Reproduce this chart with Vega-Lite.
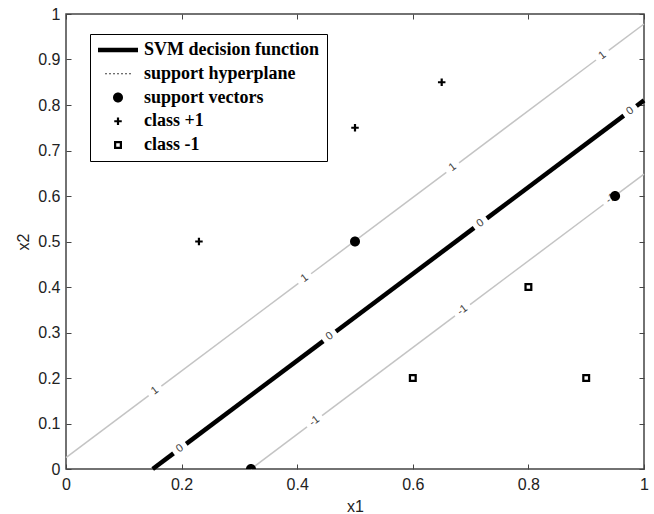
{
  "$schema": "https://vega.github.io/schema/vega-lite/v6.json",
  "width": 578,
  "height": 455,
  "autosize": "none",
  "padding": {"left": 66, "top": 14, "right": 10, "bottom": 45},
  "background": "white",
  "config": {
    "view": {"stroke": "#444", "strokeWidth": 1.5},
    "axis": {
      "grid": false, "domain": false, "tickColor": "#444", "tickSize": -5, "tickWidth": 1,
      "labelFont": "Liberation Sans", "labelFontSize": 16, "labelColor": "#222",
      "labelFlush": false, "labelOverlap": false, "format": "~g",
      "titleFont": "Liberation Sans", "titleFontSize": 16, "titleFontWeight": "normal", "titleColor": "#222"
    }
  },
  "datasets": {
    "segments": [
      {"level": "1", "x": 0, "y": 0.025, "x2": 0.143, "y2": 0.1613},
      {"level": "1", "x": 0.165, "y": 0.1822, "x2": 0.402, "y2": 0.4081},
      {"level": "1", "x": 0.424, "y": 0.4291, "x2": 0.658, "y2": 0.652},
      {"level": "1", "x": 0.68, "y": 0.673, "x2": 0.917, "y2": 0.8989},
      {"level": "1", "x": 0.939, "y": 0.9199, "x2": 1, "y2": 0.978},
      {"level": "0", "x": 0.15, "y": 0, "x2": 0.186, "y2": 0.0343},
      {"level": "0", "x": 0.208, "y": 0.0553, "x2": 0.445, "y2": 0.2811},
      {"level": "0", "x": 0.467, "y": 0.3021, "x2": 0.706, "y2": 0.5299},
      {"level": "0", "x": 0.728, "y": 0.5508, "x2": 0.965, "y2": 0.7767},
      {"level": "0", "x": 0.987, "y": 0.7977, "x2": 1, "y2": 0.8101},
      {"level": "-1", "x": 0.32, "y": 0, "x2": 0.417, "y2": 0.0924},
      {"level": "-1", "x": 0.443, "y": 0.1172, "x2": 0.673, "y2": 0.3364},
      {"level": "-1", "x": 0.699, "y": 0.3612, "x2": 0.93, "y2": 0.5813},
      {"level": "-1", "x": 0.956, "y": 0.6061, "x2": 1, "y2": 0.648}
    ],
    "labels": [
      {"label": "1", "x": 0.154, "y": 0.172},
      {"label": "1", "x": 0.413, "y": 0.419},
      {"label": "1", "x": 0.669, "y": 0.663},
      {"label": "1", "x": 0.928, "y": 0.909},
      {"label": "0", "x": 0.197, "y": 0.045},
      {"label": "0", "x": 0.456, "y": 0.292},
      {"label": "0", "x": 0.717, "y": 0.54},
      {"label": "0", "x": 0.976, "y": 0.787},
      {"label": "-1", "x": 0.43, "y": 0.105},
      {"label": "-1", "x": 0.686, "y": 0.349},
      {"label": "-1", "x": 0.943, "y": 0.594}
    ],
    "points": [
      {"kind": "support vectors", "x": 0.5, "y": 0.5},
      {"kind": "support vectors", "x": 0.32, "y": 0},
      {"kind": "support vectors", "x": 0.95, "y": 0.6},
      {"kind": "class +1", "x": 0.23, "y": 0.5},
      {"kind": "class +1", "x": 0.5, "y": 0.75},
      {"kind": "class +1", "x": 0.65, "y": 0.85},
      {"kind": "class -1", "x": 0.6, "y": 0.2},
      {"kind": "class -1", "x": 0.8, "y": 0.4},
      {"kind": "class -1", "x": 0.9, "y": 0.2}
    ]
  },
  "layer": [
    {
      "data": {"name": "segments"},
      "transform": [{"filter": "datum.level != '0'"}],
      "mark": {"type": "rule", "color": "#c4c4c4", "strokeWidth": 1.5},
      "encoding": {
        "x": {"field": "x", "type": "quantitative", "scale": {"domain": [0, 1], "nice": false},
              "axis": {"orient": "bottom", "values": [0, 0.2, 0.4, 0.6, 0.8, 1], "format": "~g", "title": "x1", "labelPadding": 12, "titlePadding": 6}},
        "y": {"field": "y", "type": "quantitative", "scale": {"domain": [0, 1], "nice": false},
              "axis": {"orient": "left", "values": [0, 0.1, 0.2, 0.3, 0.4, 0.5, 0.6, 0.7, 0.8, 0.9, 1], "format": "~g", "title": "x2", "labelPadding": 11, "titlePadding": 6}},
        "x2": {"field": "x2"},
        "y2": {"field": "y2"}
      }
    },
    {
      "data": {"name": "segments"},
      "transform": [{"filter": "datum.level == '0'"}],
      "mark": {"type": "rule", "color": "black", "strokeWidth": 4.5},
      "encoding": {
        "x": {"field": "x", "type": "quantitative", "axis": null},
        "y": {"field": "y", "type": "quantitative", "axis": null},
        "x2": {"field": "x2"},
        "y2": {"field": "y2"}
      }
    },
    {
      "data": {"name": "labels"},
      "mark": {"type": "text", "angle": -36.8, "font": "Liberation Sans", "fontSize": 11, "color": "#444", "align": "center", "baseline": "middle"},
      "encoding": {
        "x": {"field": "x", "type": "quantitative", "axis": null},
        "y": {"field": "y", "type": "quantitative", "axis": null},
        "text": {"field": "label"}
      }
    },
    {
      "data": {"name": "points"},
      "mark": {"type": "point", "filled": true, "color": "black", "opacity": 1, "size": 100, "strokeWidth": 0, "clip": true},
      "encoding": {
        "x": {"field": "x", "type": "quantitative",
              "axis": {"orient": "top", "values": [0, 0.2, 0.4, 0.6, 0.8, 1], "labels": false, "title": null}},
        "y": {"field": "y", "type": "quantitative",
              "axis": {"orient": "right", "values": [0, 0.1, 0.2, 0.3, 0.4, 0.5, 0.6, 0.7, 0.8, 0.9, 1], "labels": false, "title": null}},
        "shape": {
          "field": "kind", "type": "nominal",
          "scale": {
            "domain": ["SVM decision function", "support hyperplane", "support vectors", "class +1", "class -1"],
            "range": [
              "M-4,-0.45H4V0.45H-4Z",
              "M-2.55,-0.12h0.3v0.24h-0.3zM-1.75,-0.12h0.3v0.24h-0.3zM-0.95,-0.12h0.3v0.24h-0.3zM-0.15,-0.12h0.3v0.24h-0.3zM0.65,-0.12h0.3v0.24h-0.3zM1.45,-0.12h0.3v0.24h-0.3zM2.25,-0.12h0.3v0.24h-0.3z",
              "M1,0C1,0.552,0.552,1,0,1C-0.552,1,-1,0.552,-1,0C-1,-0.552,-0.552,-1,0,-1C0.552,-1,1,-0.552,1,0Z",
              "M-0.75,-0.22H-0.22V-0.75H0.22V-0.22H0.75V0.22H0.22V0.75H-0.22V0.22H-0.75Z",
              "M-0.8,-0.8H0.8V0.8H-0.8ZM-0.35,-0.35V0.35H0.35V-0.35Z"
            ]
          },
          "legend": {
            "orient": "none", "legendX": 24, "legendY": 20, "title": null,
            "padding": 7, "strokeColor": "black", "fillColor": "white",
            "symbolOffset": 12, "labelOffset": 17, "rowPadding": 5.75,
            "labelFont": "Liberation Serif", "labelFontWeight": "bold", "labelFontSize": 18, "labelColor": "black", "labelLimit": 400,
            "symbolSize": 100, "symbolFillColor": "black", "symbolStrokeWidth": 0, "symbolOpacity": 1,
            "encode": {"legend": {"update": {"strokeWidth": {"value": 1.5}}}}
          }
        }
      }
    }
  ],
  "resolve": {"axis": {"x": "independent", "y": "independent"}}
}
